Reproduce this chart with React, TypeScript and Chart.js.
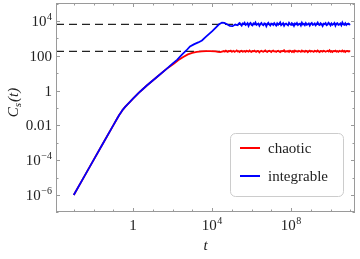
import React, { useEffect, useRef } from "react";
import { Chart, registerables } from "chart.js";

Chart.register(...registerables);

// ---- data ----
const sharedT = [0.001, 0.003, 0.01, 0.03, 0.1, 0.15, 0.2, 0.25, 0.3, 0.4, 0.5, 0.7, 1, 1.5, 2, 3, 5, 10, 20, 50];
const sharedC = [1e-6, 9e-6, 1e-4, 9e-4, 0.01, 0.0224, 0.039, 0.057, 0.078, 0.115, 0.152, 0.225, 0.34, 0.54, 0.75, 1.15, 1.95, 3.8, 7.3, 17.5];

const chaoticRiseT = [80, 120, 200, 350, 600, 1000, 1700, 3000, 5000, 8000, 15000, 20000, 26000, 32000];
const chaoticRiseC = [26, 36, 56, 85, 120, 145, 165, 177, 182, 184, 178, 165, 160, 172];

const integrableRiseT = [100, 170, 300, 500, 770, 1200, 2000, 3100, 5000, 10000, 16000, 22000, 32000, 42000, 60000, 80000, 110000, 150000];
const integrableRiseC = [35, 58, 115, 200, 340, 450, 580, 750, 1250, 2500, 4200, 6200, 8000, 7700, 6200, 5200, 5000, 6200];

// plateau samples (log10 t and C)
const chaoticTailLogT = [
  4.6, 4.65, 4.7, 4.75, 4.8, 4.85, 4.9, 4.95, 5.0, 5.05,
  5.1, 5.15, 5.2, 5.25, 5.3, 5.35, 5.4, 5.45, 5.5, 5.55,
  5.6, 5.65, 5.7, 5.75, 5.8, 5.85, 5.9, 5.95, 6.0, 6.05,
  6.1, 6.15, 6.2, 6.25, 6.3, 6.35, 6.4, 6.45, 6.5, 6.55,
  6.6, 6.65, 6.7, 6.75, 6.8, 6.85, 6.9, 6.95, 7.0, 7.05,
  7.1, 7.15, 7.2, 7.25, 7.3, 7.35, 7.4, 7.45, 7.5, 7.55,
  7.6, 7.65, 7.7, 7.75, 7.8, 7.85, 7.9, 7.95, 8.0, 8.05,
  8.1, 8.15, 8.2, 8.25, 8.3, 8.35, 8.4, 8.45, 8.5, 8.55,
  8.6, 8.65, 8.7, 8.75, 8.8, 8.85, 8.9, 8.95, 9.0, 9.05,
  9.1, 9.15, 9.2, 9.25, 9.3, 9.35, 9.4, 9.45, 9.5, 9.55,
  9.6, 9.65, 9.7, 9.75, 9.8, 9.85, 9.9, 9.95, 10.0, 10.05,
  10.1, 10.15, 10.2, 10.25, 10.3, 10.35, 10.4, 10.45, 10.5, 10.55,
  10.6, 10.65, 10.7, 10.75, 10.8, 10.85, 10.9, 10.95, 11.0,
];
const chaoticTailC = [
  186, 171, 194, 178, 165, 189, 182, 198, 170, 176,
  191, 168, 184, 203, 174, 181, 162, 188, 195, 172,
  179, 186, 167, 192, 183, 171, 199, 176, 164, 187,
  181, 196, 173, 169, 190, 185, 158, 182, 194, 177,
  170, 188, 201, 175, 166, 184, 192, 179, 163, 189,
  197, 174, 181, 168, 186, 193, 172, 160, 185, 178,
  191, 205, 169, 183, 176, 188, 166, 194, 180, 173,
  187, 162, 199, 178, 184, 171, 190, 182, 167, 196,
  175, 183, 169, 192, 186, 161, 181, 198, 174, 188,
  179, 166, 193, 184, 172, 200, 177, 164, 189, 182,
  171, 195, 186, 168, 180, 191, 175, 206, 170, 184,
  163, 188, 179, 194, 173, 185, 167, 192, 181, 176,
  198, 172, 187, 165, 183, 190, 177, 185, 180,
];
const integrableTailLogT = [
  5.3, 5.35, 5.4, 5.45, 5.5, 5.55, 5.6, 5.65, 5.7, 5.75,
  5.8, 5.85, 5.9, 5.95, 6.0, 6.05, 6.1, 6.15, 6.2, 6.25,
  6.3, 6.35, 6.4, 6.45, 6.5, 6.55, 6.6, 6.65, 6.7, 6.75,
  6.8, 6.85, 6.9, 6.95, 7.0, 7.05, 7.1, 7.15, 7.2, 7.25,
  7.3, 7.35, 7.4, 7.45, 7.5, 7.55, 7.6, 7.65, 7.7, 7.75,
  7.8, 7.85, 7.9, 7.95, 8.0, 8.05, 8.1, 8.15, 8.2, 8.25,
  8.3, 8.35, 8.4, 8.45, 8.5, 8.55, 8.6, 8.65, 8.7, 8.75,
  8.8, 8.85, 8.9, 8.95, 9.0, 9.05, 9.1, 9.15, 9.2, 9.25,
  9.3, 9.35, 9.4, 9.45, 9.5, 9.55, 9.6, 9.65, 9.7, 9.75,
  9.8, 9.85, 9.9, 9.95, 10.0, 10.05, 10.1, 10.15, 10.2, 10.25,
  10.3, 10.35, 10.4, 10.45, 10.5, 10.55, 10.6, 10.65, 10.7, 10.75,
  10.8, 10.85, 10.9, 10.95, 11.0,
];
const integrableTailC = [
  5600, 6900, 7500, 6200, 5400, 7100, 6600, 7900, 5800, 6300,
  7400, 5200, 6800, 7700, 6000, 5500, 7200, 6500, 8100, 5900,
  6400, 7000, 5300, 6700, 7600, 6100, 5700, 7300, 6900, 5000,
  6600, 7800, 6200, 5500, 7100, 6800, 5900, 7500, 6300, 5400,
  7200, 6000, 6900, 8200, 5700, 6400, 7400, 5300, 6700, 7000,
  6100, 5600, 7700, 6500, 5900, 7300, 6800, 5200, 7100, 6300,
  7600, 5800, 6600, 7000, 5500, 7900, 6200, 6800, 5700, 7400,
  6000, 6500, 7200, 5400, 6900, 7700, 5900, 6300, 7100, 5600,
  6700, 8000, 6100, 5800, 7300, 6400, 5100, 7000, 6600, 7500,
  5700, 6200, 7800, 6800, 5500, 7200, 6000, 6500, 7600, 5300,
  6900, 7400, 5900, 6300, 7100, 5600, 8100, 6400, 6000, 7300,
  5800, 6700, 7000, 6200, 6500,
];

const chaoticLevel = 180;
const integrableLevel = 6300;

const seriesLabels = ["chaotic", "integrable"];
const seriesColors = ["#ff0000", "#0000ff"];

const xMin = 1.26e-4;
const xMax = 1.74e11;
const yMin = 1.05e-7;
const yMax = 1.07e5;

const xTicks = [1e-3, 1e-2, 1e-1, 1, 1e1, 1e2, 1e3, 1e4, 1e5, 1e6, 1e7, 1e8, 1e9, 1e10, 1e11];
const xLabels: { v: number; base: string; exp?: string }[] = [
  { v: 1, base: "1" },
  { v: 1e4, base: "10", exp: "4" },
  { v: 1e8, base: "10", exp: "8" },
];
const yTicks = [1e-7, 1e-6, 1e-5, 1e-4, 1e-3, 1e-2, 1e-1, 1, 1e1, 1e2, 1e3, 1e4, 1e5];
const yLabels: { v: number; base: string; exp?: string }[] = [
  { v: 1e-6, base: "10", exp: "\u22126" },
  { v: 1e-4, base: "10", exp: "\u22124" },
  { v: 1e-2, base: "0.01" },
  { v: 1, base: "1" },
  { v: 100, base: "100" },
  { v: 1e4, base: "10", exp: "4" },
];

const FONT = "'Liberation Serif', 'Times New Roman', serif";

function pts(ts: number[], cs: number[]) {
  return ts.map((t, i) => ({ x: t, y: cs[i] }));
}
function tail(logT: number[], cs: number[]) {
  return logT.map((e, i) => ({ x: Math.pow(10, e), y: cs[i] }));
}

const framePlugin = {
  id: "frameDecor",
  afterDatasetsDraw(chart: any) {
    const { ctx, chartArea: a, scales } = chart;
    const xs = scales.x;
    const ys = scales.y;
    ctx.save();
    // frame
    ctx.strokeStyle = "#9a9a9a";
    ctx.lineWidth = 1;
    ctx.strokeRect(a.left + 0.5, a.top + 0.5, a.right - a.left - 1, a.bottom - a.top - 1);
    const majX = xLabels.map((l) => l.v);
    const majY = yLabels.map((l) => l.v);
    ctx.beginPath();
    for (const v of xTicks) {
      const px = Math.round(xs.getPixelForValue(v)) + 0.5;
      const len = majX.includes(v) ? 4 : 2.5;
      ctx.moveTo(px, a.bottom);
      ctx.lineTo(px, a.bottom - len);
      ctx.moveTo(px, a.top);
      ctx.lineTo(px, a.top + len);
    }
    for (const v of yTicks) {
      const py = Math.round(ys.getPixelForValue(v)) + 0.5;
      const len = majY.includes(v) ? 4 : 2.5;
      ctx.moveTo(a.left, py);
      ctx.lineTo(a.left + len, py);
      ctx.moveTo(a.right, py);
      ctx.lineTo(a.right - len, py);
    }
    ctx.stroke();

    // tick labels
    ctx.fillStyle = "#222";
    ctx.textBaseline = "alphabetic";
    const baseFont = `15px ${FONT}`;
    const expFont = `10px ${FONT}`;
    const measure = (l: { base: string; exp?: string }) => {
      ctx.font = baseFont;
      const bw = ctx.measureText(l.base).width;
      ctx.font = expFont;
      const ew = l.exp ? ctx.measureText(l.exp).width + 0.5 : 0;
      return { bw, ew };
    };
    const drawLabel = (l: { base: string; exp?: string }, x0: number, baseline: number) => {
      const { bw } = measure(l);
      ctx.font = baseFont;
      ctx.textAlign = "left";
      ctx.fillText(l.base, x0, baseline);
      if (l.exp) {
        ctx.font = expFont;
        ctx.fillText(l.exp, x0 + bw + 0.5, baseline - 6);
      }
    };
    for (const l of yLabels) {
      const py = ys.getPixelForValue(l.v);
      const { bw, ew } = measure(l);
      drawLabel(l, 52 - bw - ew, py + 5);
    }
    for (const l of xLabels) {
      const px = xs.getPixelForValue(l.v);
      const { bw, ew } = measure(l);
      drawLabel(l, px - (bw + ew) / 2, a.bottom + 18);
    }

    // axis titles
    ctx.font = `italic 15px ${FONT}`;
    ctx.textAlign = "center";
    ctx.fillText("t", (a.left + a.right) / 2, 250);

    ctx.save();
    ctx.translate(18, (a.top + a.bottom) / 2 - 5);
    ctx.rotate(-Math.PI / 2);
    ctx.textAlign = "left";
    ctx.font = `italic 15px ${FONT}`;
    const wC = ctx.measureText("C").width;
    ctx.font = `italic 11px ${FONT}`;
    const wS = ctx.measureText("s").width;
    ctx.font = `italic 15px ${FONT}`;
    const wT = ctx.measureText("(t)").width;
    const total = wC + wS + 1 + wT;
    let cx = -total / 2;
    ctx.fillText("C", cx, 0);
    cx += wC;
    ctx.font = `italic 11px ${FONT}`;
    ctx.fillText("s", cx, 3);
    cx += wS + 1;
    ctx.font = `italic 15px ${FONT}`;
    ctx.fillText("(t)", cx, 0);
    ctx.restore();

    // legend
    const lx = 230.5, ly = 133.5, lw = 113, lh = 63, r = 5;
    ctx.beginPath();
    ctx.moveTo(lx + r, ly);
    ctx.lineTo(lx + lw - r, ly);
    ctx.arcTo(lx + lw, ly, lx + lw, ly + r, r);
    ctx.lineTo(lx + lw, ly + lh - r);
    ctx.arcTo(lx + lw, ly + lh, lx + lw - r, ly + lh, r);
    ctx.lineTo(lx + r, ly + lh);
    ctx.arcTo(lx, ly + lh, lx, ly + lh - r, r);
    ctx.lineTo(lx, ly + r);
    ctx.arcTo(lx, ly, lx + r, ly, r);
    ctx.closePath();
    ctx.fillStyle = "#ffffff";
    ctx.fill();
    ctx.strokeStyle = "#cccccc";
    ctx.lineWidth = 1;
    ctx.stroke();
    const rows = [148, 176];
    seriesLabels.forEach((lab, i) => {
      ctx.strokeStyle = seriesColors[i];
      ctx.lineWidth = 2;
      ctx.beginPath();
      ctx.moveTo(240, rows[i]);
      ctx.lineTo(260, rows[i]);
      ctx.stroke();
      ctx.fillStyle = "#222";
      ctx.font = `15px ${FONT}`;
      ctx.textAlign = "left";
      ctx.fillText(lab, 268, rows[i] + 5);
    });
    ctx.restore();
  },
};

export default function App() {
  const ref = useRef<HTMLCanvasElement>(null);
  useEffect(() => {
    if (!ref.current) return;
    const dashed = (level: number) => ({
      label: "",
      data: [
        { x: xMin, y: level },
        { x: xMax, y: level },
      ],
      borderColor: "#222",
      borderWidth: 1.2,
      borderDash: [8, 5],
      pointRadius: 0,
      fill: false,
    });
    const chart = new Chart(ref.current, {
      type: "line",
      data: {
        datasets: [
          {
            label: seriesLabels[1],
            data: [...pts(sharedT, sharedC), ...pts(integrableRiseT, integrableRiseC), ...tail(integrableTailLogT, integrableTailC)],
            borderColor: seriesColors[1],
            borderWidth: 1.8,
            pointRadius: 0,
            fill: false,
            tension: 0,
          },
          {
            label: seriesLabels[0],
            data: [...pts(sharedT, sharedC), ...pts(chaoticRiseT, chaoticRiseC), ...tail(chaoticTailLogT, chaoticTailC)],
            borderColor: seriesColors[0],
            borderWidth: 1.8,
            pointRadius: 0,
            fill: false,
            tension: 0,
          },
          dashed(integrableLevel),
          dashed(chaoticLevel),
        ],
      },
      options: {
        animation: false,
        responsive: false,
        events: [],
        layout: { padding: { top: 3, right: 5, left: 0, bottom: 0 } },
        plugins: { legend: { display: false }, tooltip: { enabled: false } },
        scales: {
          x: {
            type: "logarithmic",
            min: xMin,
            max: xMax,
            grid: { display: false },
            border: { display: false },
            ticks: { display: false },
            afterFit: (s: any) => {
              s.height = 47;
            },
          },
          y: {
            type: "logarithmic",
            min: yMin,
            max: yMax,
            grid: { display: false },
            border: { display: false },
            ticks: { display: false },
            afterFit: (s: any) => {
              s.width = 56;
            },
          },
        },
      },
      plugins: [framePlugin],
    } as any);
    return () => chart.destroy();
  }, []);
  return (
    <div style={{ position: "fixed", left: 0, top: 0, width: 360, height: 259, background: "#fff" }}>
      <canvas ref={ref} width={360} height={259} style={{ width: 360, height: 259, display: "block" }} />
    </div>
  );
}
